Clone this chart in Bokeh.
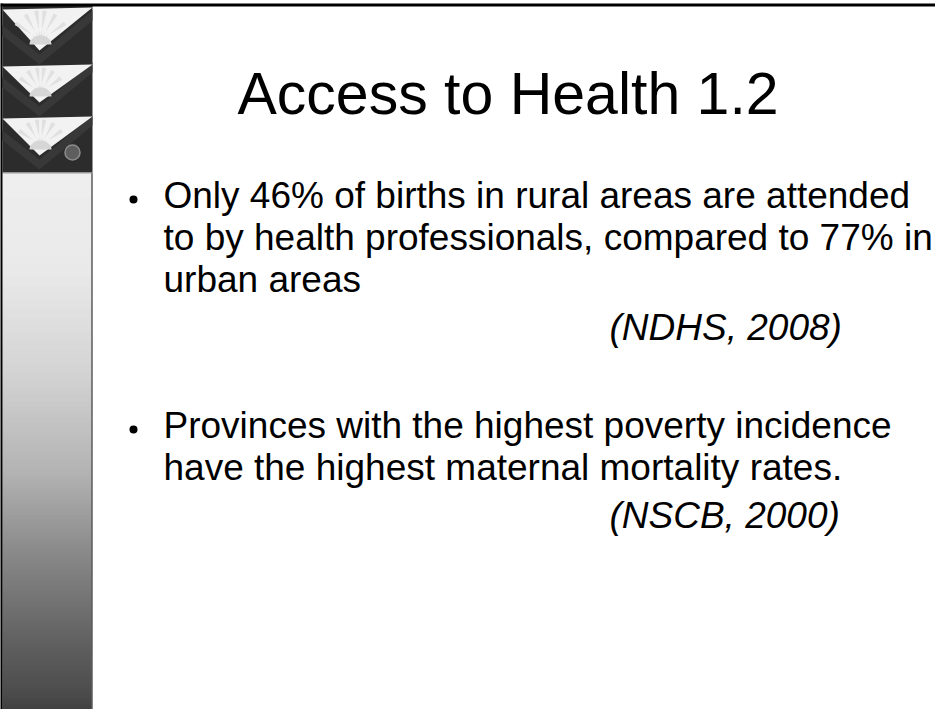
import numpy as np
from bokeh.plotting import figure
from bokeh.models import Range1d
from bokeh.core.properties import value
from bokeh.embed import file_html
from bokeh.resources import INLINE

# ---------------- content ----------------
TITLE = "Access to Health 1.2"
BULLET1_LINES = [
    "Only 46% of births in rural areas are attended",
    "to by health professionals, compared to 77% in",
    "urban areas",
]
SOURCE1 = "(NDHS, 2008)"
BULLET2_LINES = [
    "Provinces with the highest poverty incidence",
    "have the highest maternal mortality rates.",
]
SOURCE2 = "(NSCB, 2000)"

# sidebar gradient stops (page y, gray level)
GRAD_Y = [180, 280, 380, 480, 547, 580, 600, 650, 700, 725]
GRAD_G = [236, 230, 205, 168, 128, 110, 100, 74, 51, 30]

# chevron triangles (top y, apex y)
CHEV_TOP = [16, 73, 125]
CHEV_APEX = [58, 110, 163]

FONT = "Liberation Sans"
TITLE_PX = 59
BODY_PX = 37
# bokeh's svg text sits ~0.35 em lower than the requested alphabetic baseline
SHIFT = 0.35

# ---------------- figure (1 unit = 1 page pixel) ----------------
X0, Y0 = 8, 8
W, H = 935, 709
p = figure(width=W, height=H,
           x_range=Range1d(X0, X0 + W), y_range=Range1d(Y0 + H, Y0),
           x_axis_type=None, y_axis_type=None,
           toolbar_location=None, output_backend="svg",
           min_border=0, outline_line_color=None)
p.background_fill_color = "white"
p.border_fill_color = "white"
p.xgrid.visible = False
p.ygrid.visible = False

# ---- sidebar gradient ----
ys = np.arange(GRAD_Y[0], GRAD_Y[-1] + 1)
gs = np.interp(ys, GRAD_Y, GRAD_G).round().astype(int)
cols = ["#%02x%02x%02x" % (g, g, g) for g in gs]
p.quad(left=10, right=99, top=ys, bottom=ys + 1.2, fill_color=cols, line_color=None)

# ---- chevron block ----
p.quad(left=[10], right=[100], top=[13], bottom=[180], fill_color="#2c2c2c", line_color=None)
xs_sh, ys_sh = [], []
for t, a in zip(CHEV_TOP, CHEV_APEX):
    xs_sh.append([10, 47, 100, 100, 47, 10])
    ys_sh.append([a - 25, a + 4, a - 40, a - 30, a + 14, a - 15])
p.patches(xs_sh, ys_sh, fill_color="#383838", line_color=None)

tri_x, tri_y = [], []
for t, a in zip(CHEV_TOP, CHEV_APEX):
    tri_x.append([10, 100, 47])
    tri_y.append([t + 1, t - 1, a])
p.patches(tri_x, tri_y, fill_color="#f2f2f2", line_color=None)

# faint "sun" rays inside each triangle
ray_x, ray_y = [], []
for t, a in zip(CHEV_TOP, CHEV_APEX):
    cx, cy = 48, a - 10
    for ang in np.deg2rad([35, 60, 82, 98, 120, 145]):
        r = (a - t) - 12
        dx, dy = np.cos(ang), np.sin(ang)
        px, py = -dy, dx
        ray_x.append([cx - 1.2 * px, cx + r * dx + 2.2 * px, cx + r * dx - 2.2 * px, cx + 1.2 * px])
        ray_y.append([cy + 1.2 * py, cy - r * dy - 2.2 * py, cy - r * dy + 2.2 * py, cy - 1.2 * py])
p.patches(ray_x, ray_y, fill_color="#e0e0e0", line_color=None)
sun_x, sun_y = [], []
for t, a in zip(CHEV_TOP, CHEV_APEX):
    th = np.linspace(0, np.pi, 20)
    sun_x.append(list(48 + 11 * np.cos(th)))
    sun_y.append(list(a - 6 - 9 * np.sin(th)))
p.patches(sun_x, sun_y, fill_color="#d6d6d6", line_color=None)

# small emblem in the last block
p.scatter([80], [160], size=15, fill_color="#5e5e5e", line_color="#8c8c8c", line_width=1.5)

# sidebar right edge
p.segment(x0=[99.5], y0=[180], x1=[99.5], y1=[725], line_color="#333333", line_width=1.2)
p.segment(x0=[10], y0=[180.5], x1=[100], y1=[180.5], line_color="#9a9a9a", line_width=1)

# frame lines
p.segment(x0=[8], y0=[12.5], x1=[951], y1=[12.5], line_color="black", line_width=3)
p.segment(x0=[8.5], y0=[11], x1=[8.5], y1=[725], line_color="black", line_width=3)

# ---------------- texts ----------------
p.text(x=[245], y=[122 - SHIFT * TITLE_PX], text=[TITLE], text_font=value(FONT),
       text_font_size=f"{TITLE_PX}px", text_color="black", text_baseline="alphabetic")

body_size = f"{BODY_PX}px"
off = SHIFT * BODY_PX
b1_y = [216 + 42 * i - off for i in range(len(BULLET1_LINES))]
p.text(x=[171] * len(BULLET1_LINES), y=b1_y, text=BULLET1_LINES, text_font=value(FONT),
       text_font_size=body_size, text_color="black", text_baseline="alphabetic")
b2_y = [446 + 42 * i - off for i in range(len(BULLET2_LINES))]
p.text(x=[171] * len(BULLET2_LINES), y=b2_y, text=BULLET2_LINES, text_font=value(FONT),
       text_font_size=body_size, text_color="black", text_baseline="alphabetic")

p.text(x=[617, 617], y=[348 - off, 536 - off], text=[SOURCE1, SOURCE2], text_font=value(FONT),
       text_font_size=body_size, text_font_style="italic", text_color="black",
       text_baseline="alphabetic")

# bullets
p.scatter([141, 141], [207, 437], size=8, fill_color="black", line_color=None)

open("out.html", "w").write(file_html(p, INLINE))
